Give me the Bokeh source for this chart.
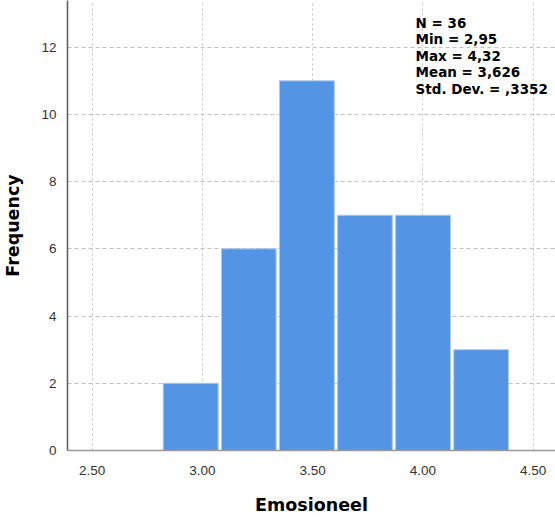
from bokeh.plotting import figure
from bokeh.models import Range1d, FixedTicker, ColumnDataSource, NumeralTickFormatter
from bokeh.core.properties import value
from bokeh.embed import file_html
from bokeh.resources import INLINE

# ---- data ----
bin_edges = [2.815, 3.079, 3.342, 3.606, 3.869, 4.133, 4.396]
counts = [2, 6, 11, 7, 7, 3]
x_ticks = [2.5, 3.0, 3.5, 4.0, 4.5]
y_ticks = [0, 2, 4, 6, 8, 10, 12]
stat_names = ["N", "Min", "Max", "Mean", "Std. Dev."]
stat_values = ["36", "2,95", "4,32", "3,626", ",3352"]
x_label = "Emosioneel"
y_label = "Frequency"

p = figure(width=555, height=517, output_backend="svg", toolbar_location=None,
           x_range=Range1d(2.388, 4.602), y_range=Range1d(0, 13.39),
           min_border_left=60, min_border_right=0, min_border_top=0,
           min_border_bottom=67)
p.outline_line_color = None
p.background_fill_color = "white"

# grid
p.xgrid.ticker = FixedTicker(ticks=x_ticks)
p.ygrid.ticker = FixedTicker(ticks=y_ticks)
p.xgrid.grid_line_color = "#c0c0c0"
p.ygrid.grid_line_color = "#c0c0c0"
p.xgrid.grid_line_dash = "2 3"
p.ygrid.grid_line_dash = "4 3"

# bars
inset = 0.0075
src = ColumnDataSource(dict(
    left=[e + inset for e in bin_edges[:-1]],
    right=[e - inset for e in bin_edges[1:]],
    top=counts,
    bottom=[0] * len(counts),
))
p.quad(left="left", right="right", top="top", bottom="bottom", source=src,
       fill_color="#5494E4", line_color="#a9c9f2", line_width=1)

# axes
for ax in (p.xaxis[0], p.yaxis[0]):
    ax.major_tick_line_color = None
    ax.minor_tick_line_color = None
    ax.major_label_text_font = "Liberation Sans"
    ax.major_label_text_font_size = "13.5px"
    ax.major_label_text_color = "#333333"
    ax.axis_label_text_font = "DejaVu Sans"
    ax.axis_label_text_font_style = "bold"
    ax.axis_label_text_font_size = "17.5px"
    ax.axis_label_text_color = "black"

p.xaxis.ticker = FixedTicker(ticks=x_ticks)
p.xaxis.formatter = NumeralTickFormatter(format="0.00")
p.xaxis.axis_label = x_label
p.xaxis.axis_line_color = "#9a9a9a"
p.xaxis.axis_line_width = 1.5
p.xaxis.major_label_standoff = 9
p.xaxis.axis_label_standoff = 17

p.yaxis.ticker = FixedTicker(ticks=y_ticks)
p.yaxis.axis_label = y_label
p.yaxis.axis_line_color = "#5a5a5a"
p.yaxis.axis_line_width = 1.5
p.yaxis.major_label_standoff = 5
p.yaxis.axis_label_standoff = 15

# statistics text block
top_y = 12.972
step = 0.494
lines = [f"{n} = {v}" for n, v in zip(stat_names, stat_values)]
tsrc = ColumnDataSource(dict(
    x=[3.967] * len(lines),
    y=[top_y - i * step for i in range(len(lines))],
    text=lines,
))
p.text(x="x", y="y", text="text", source=tsrc, text_baseline="top",
       text_align="left", text_font=value("DejaVu Sans"),
       text_font_style="bold", text_font_size="13.5px", text_color="black")

open("out.html", "w").write(file_html(p, INLINE))
